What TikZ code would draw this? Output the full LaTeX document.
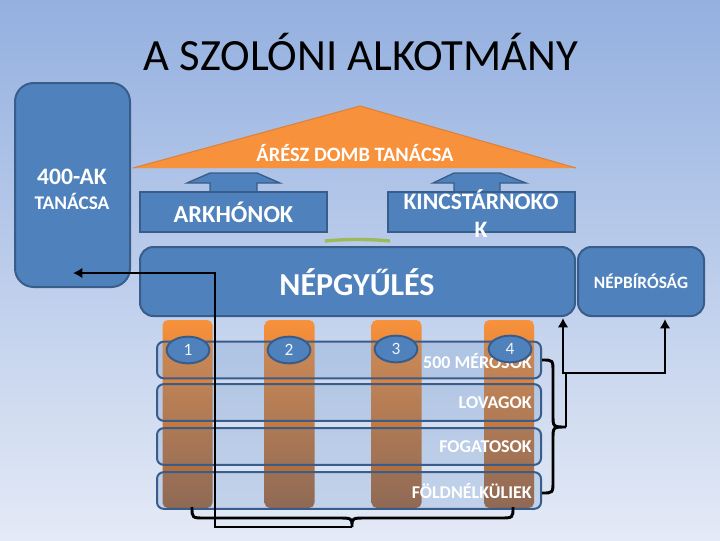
\documentclass[tikz,border=0pt]{standalone}
\usepackage{fontspec}
\setmainfont{Carlito}
\usetikzlibrary{shapes.geometric,arrows.meta}
\definecolor{bgtop}{RGB}{148,176,224}
\definecolor{bgbot}{RGB}{228,234,246}
\definecolor{boxblue}{RGB}{79,129,189}
\definecolor{boxedge}{RGB}{56,93,138}
\definecolor{orng}{RGB}{247,145,60}
\definecolor{orngedge}{RGB}{220,130,60}
\definecolor{brwn}{RGB}{160,100,60}
\definecolor{grn}{RGB}{155,187,89}
\tikzset{
  bluebox/.style={draw=boxedge, line width=1.5pt, fill=boxblue, text=white, font=\bfseries, inner sep=0pt},
  colbar/.style={rectangle, rounded corners=4pt, minimum width=37.5pt, minimum height=141pt, top color=orng, bottom color=brwn, draw=none, inner sep=0pt},
  rowbar/.style={rectangle, rounded corners=5pt, minimum width=288pt, minimum height=27.5pt, fill=boxblue, fill opacity=0.2, draw=boxedge, draw opacity=1, line width=1.5pt, inner sep=0pt},
  rowtxt/.style={anchor=east, text=white, font=\bfseries\fontsize{13.5pt}{15pt}\selectfont, inner sep=0pt},
  num/.style={ellipse, minimum width=32pt, minimum height=20pt, fill=boxblue, draw=boxedge, line width=1.5pt, text=white!90!boxblue, font=\fontsize{13pt}{15pt}\selectfont, inner sep=0pt},
  upar/.style={fill=boxblue, draw=boxedge, line width=1pt},
  conn/.style={line width=2.2pt, black},
  tip/.style={-{Latex[length=7pt,width=8pt]}}
}
\begin{document}
\begin{tikzpicture}[x=0.75pt,y=-0.75pt]
\shade[top color=bgtop, bottom color=bgbot] (0,0) rectangle (720,540);
\useasboundingbox (0,0) rectangle (720,540);

\node[font=\fontsize{33.5pt}{38pt}\selectfont, text=black] (title) at (361,52) {A SZOLÓNI ALKOTMÁNY};

% 400-AK council
\node[bluebox, rounded corners=14pt, minimum width=86.25pt, minimum height=153pt] (council) at (72.5,185) {};
\node[text=white, font=\bfseries\fontsize{17.7pt}{20pt}\selectfont] (ct1) at (72,177) {400-AK};
\node[text=white, font=\bfseries\fontsize{14.5pt}{16pt}\selectfont] (ct2) at (72,201) {TANÁCSA};

% Areopagus triangle
\coordinate (apex) at (360,106);
\coordinate (bl) at (133,168);
\coordinate (br) at (576,168);
\fill[orng] (bl) -- (apex) -- (br) -- cycle;
\draw[orngedge, line width=0.8pt] (bl) -- (apex) -- (br);
\node[text=white, font=\bfseries\fontsize{15.3pt}{17pt}\selectfont] (areo) at (355,153) {ÁRÉSZ DOMB TANÁCSA};

% up arrows
\draw[upar] (210,173) -- (257,173) -- (280,183) -- (257,183) -- (257,193) -- (210,193) -- (210,183) -- (187,183) -- cycle;
\draw[upar] (454,173) -- (500,173) -- (526,183) -- (500,183) -- (500,193) -- (454,193) -- (454,183) -- (433,183) -- cycle;

% archons & treasurers
\node[bluebox, minimum width=140.25pt, minimum height=30pt, font=\bfseries\fontsize{18.3pt}{21pt}\selectfont] (archon) at (233.5,212) {ARKHÓNOK};
\node[bluebox, minimum width=140.25pt, minimum height=30pt] (treas) at (481.5,212) {};
\node[text=white, align=center, font=\bfseries\fontsize{17.7pt}{21pt}\selectfont, inner sep=0pt] (treastxt) at (481,214) {KINCSTÁRNOKO\\K};

% green line
\coordinate (g1) at (325,241);
\coordinate (g2) at (390,241);
\draw[grn, line width=2.5pt] (g1) .. controls (345,239) and (370,239) .. (g2);

% assembly & court
\node[bluebox, rounded corners=10pt, minimum width=326.25pt, minimum height=51.75pt] (assembly) at (357.5,281.5) {};
\node[text=white, font=\bfseries\fontsize{24pt}{28pt}\selectfont] (asstxt) at (357,282) {NÉPGYŰLÉS};
\node[bluebox, rounded corners=10pt, minimum width=94.5pt, minimum height=51.75pt, font=\bfseries\fontsize{13pt}{15pt}\selectfont] (court) at (641,281.5) {NÉPBÍRÓSÁG};

% columns
\node[colbar] (c1) at (187.5,414) {};
\node[colbar] (c2) at (289.5,414) {};
\node[colbar] (c3) at (396.5,414) {};
\node[colbar] (c4) at (509,414) {};

% rows
\node[rowbar] (r1) at (349,360) {};
\node[rowbar] (r2) at (349,402.5) {};
\node[rowbar] (r3) at (349,446.5) {};
\node[rowbar] (r4) at (349,490.5) {};
\node[rowtxt] (t1) at (532,361) {500 MÉRŐSÖK};
\node[rowtxt] (t2) at (532,403) {LOVAGOK};
\node[rowtxt] (t3) at (532,447) {FOGATOSOK};
\node[rowtxt] (t4) at (532,491) {FÖLDNÉLKÜLIEK};

% numbered ellipses
\node[num] (n1) at (188,350) {1};
\node[num] (n2) at (289,350) {2};
\node[num] (n3) at (396,349) {3};
\node[num] (n4) at (510,349) {4};

% bottom brace
\coordinate (bb) at (352,527);
\draw[conn] (192,507) .. controls (192,518) .. (205,518) -- (338,518) .. controls (352,518) .. (bb) .. controls (352,518) .. (366,518) -- (500,518) .. controls (513,518) .. (513,507);
% right brace
\coordinate (rb) at (566,427);
\draw[conn] (542,360) .. controls (553,360) .. (553,372) -- (553,415) .. controls (553,427) .. (rb) .. controls (553,427) .. (553,439) -- (553,481) .. controls (553,493) .. (542,493);

% connectors
\coordinate (k1) at (215,527);
\coordinate (k2) at (215,273);
\coordinate (cend) at (73,273);
\draw[conn, tip] (bb) -- (k1) -- (k2) -- (cend);

\coordinate (j) at (566,373);
\coordinate (aend) at (563,318);
\coordinate (j2) at (665,373);
\coordinate (cend2) at (665,319);
\draw[conn] (rb) -- (j);
\draw[conn, tip] (j) -- (563,373) -- (aend);
\draw[conn, tip] (j) -- (j2) -- (cend2);
\end{tikzpicture}
\end{document}
